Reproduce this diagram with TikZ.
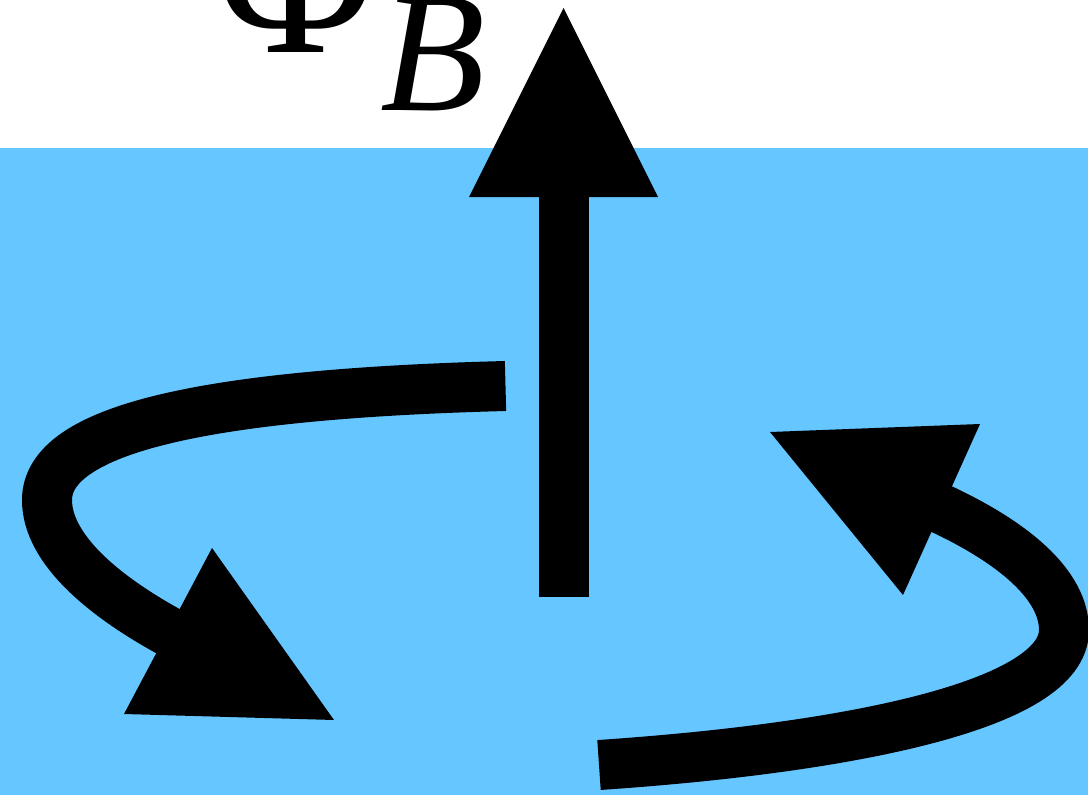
\documentclass[tikz,border=0pt]{standalone}
\usepackage{fontspec}
\setmainfont{Liberation Serif}
\newfontfamily\itserif{LiberationSerif-Italic.ttf}
\definecolor{skyblue}{HTML}{66C6FF}
\begin{document}
\begin{tikzpicture}[x=1pt,y=-1pt,
  shaft/.style={line width=50pt,black},
  headfill/.style={fill=black}]
\useasboundingbox (0,0) rectangle (1088,795);
\fill[skyblue] (0,148) rectangle (1088,795);
% label
\node[anchor=base,inner sep=0pt,font=\fontsize{215}{215}\selectfont] (phi) at (296,52) {Φ};
\node[anchor=base west,inner sep=0pt,font=\fontsize{172}{172}\selectfont\itserif] (subB) at (380,110) {B};
% vertical arrow (flux)
\coordinate (vbot) at (563.5,597);
\coordinate (vbase) at (563.5,190);
\coordinate (vtip) at (563.5,8);
\draw[shaft] (vbot) -- (vbase);
\fill[headfill] (469,197) -- (vtip) -- (658,197) -- cycle;
% left circulation arrow
\coordinate (lstart) at (505.5,386);
\coordinate (lleft) at (47,500);
\coordinate (lbase) at (175,635);
\draw[shaft] (lstart) .. controls (200,394) and (47,430) .. (lleft)
  .. controls (47,550) and (106,598) .. (lbase);
\fill[headfill] (212,548) -- (334,720) -- (124,714) -- cycle;
% right circulation arrow
\coordinate (rstart) at (599,765);
\coordinate (rright) at (1064,630);
\coordinate (rbase) at (935,506);
\draw[shaft] (rstart) .. controls (850,748) and (1064,705) .. (rright)
  .. controls (1064,585) and (1014,542) .. (rbase);
\fill[headfill] (770,432) -- (980,424) -- (903,595) -- cycle;
\end{tikzpicture}
\end{document}
